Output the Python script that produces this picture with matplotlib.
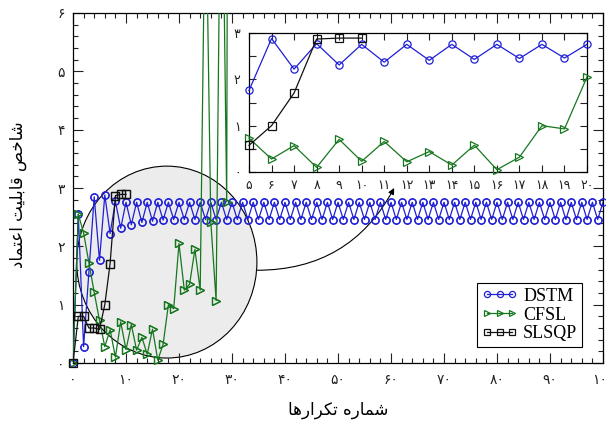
import numpy as np
import matplotlib
matplotlib.use("Agg")
import matplotlib.pyplot as plt
from matplotlib.patches import Ellipse

# ---------------- data ----------------
iterations = list(range(0, 101))

dstm = [0.0, 2.55, 0.28, 1.56, 2.85, 1.76, 2.88, 2.22, 2.77, 2.31,
        2.755, 2.37, 2.755, 2.41, 2.755, 2.43, 2.755, 2.45, 2.755, 2.46,
        2.755, 2.46, 2.755, 2.46, 2.755, 2.46, 2.755, 2.46, 2.755, 2.46,
        2.755, 2.46, 2.755, 2.46, 2.755, 2.46, 2.755, 2.46, 2.755, 2.46,
        2.755, 2.46, 2.755, 2.46, 2.755, 2.46, 2.755, 2.46, 2.755, 2.46,
        2.755, 2.46, 2.755, 2.46, 2.755, 2.46, 2.755, 2.46, 2.755, 2.46,
        2.755, 2.46, 2.755, 2.46, 2.755, 2.46, 2.755, 2.46, 2.755, 2.46,
        2.755, 2.46, 2.755, 2.46, 2.755, 2.46, 2.755, 2.46, 2.755, 2.46,
        2.755, 2.46, 2.755, 2.46, 2.755, 2.46, 2.755, 2.46, 2.755, 2.46,
        2.755, 2.46, 2.755, 2.46, 2.755, 2.46, 2.755, 2.46, 2.755, 2.46,
        2.755]

cfsl_iter = list(range(0, 31))
cfsl = [0.0, 2.55, 2.23, 1.72, 1.21, 0.73, 0.28, 0.57, 0.10, 0.705,
        0.23, 0.66, 0.22, 0.44, 0.15, 0.58, 0.05, 0.32, 1.00, 0.93,
        2.05, 1.25, 1.35, 1.95, 1.25, 8.5, 2.42, 1.07, 10.0, 2.76,
        40.0]

slsqp_iter = list(range(0, 11))
slsqp = [0.0, 0.8, 0.8, 0.6, 0.6, 0.575, 1.0, 1.705, 2.87, 2.89, 2.89]

series_names = ["DSTM", "CFSL", "SLSQP"]

x_ticks = [0, 10, 20, 30, 40, 50, 60, 70, 80, 90, 100]
x_tick_labels = ["۰", "۱۰", "۲۰", "۳۰", "۴۰", "۵۰", "۶۰", "۷۰", "۸۰", "۹۰", "۱۰۰"]
y_ticks = [0, 1, 2, 3, 4, 5, 6]
y_tick_labels = ["۰", "۱", "۲", "۳", "۴", "۵", "۶"]
inset_x_ticks = list(range(5, 21))
inset_x_tick_labels = ["۵", "۶", "۷", "۸", "۹", "۱۰", "۱۱", "۱۲", "۱۳", "۱۴",
                       "۱۵", "۱۶", "۱۷", "۱۸", "۱۹", "۲۰"]
inset_y_ticks = [0, 1, 2, 3]
inset_y_tick_labels = ["۰", "۱", "۲", "۳"]

x_label = "شماره تکرارها"
y_label = "شاخص قابلیت اعتماد"

# ---------------- minimal Persian shaping ----------------
AR_FORMS = {
    '\u0627': ('\uFE8D', '\uFE8E', None, None),
    '\u0628': ('\uFE8F', '\uFE90', '\uFE91', '\uFE92'),
    '\u062A': ('\uFE95', '\uFE96', '\uFE97', '\uFE98'),
    '\u062E': ('\uFEA5', '\uFEA6', '\uFEA7', '\uFEA8'),
    '\u062F': ('\uFEA9', '\uFEAA', None, None),
    '\u0631': ('\uFEAD', '\uFEAE', None, None),
    '\u0634': ('\uFEB5', '\uFEB6', '\uFEB7', '\uFEB8'),
    '\u0635': ('\uFEB9', '\uFEBA', '\uFEBB', '\uFEBC'),
    '\u0639': ('\uFEC9', '\uFECA', '\uFECB', '\uFECC'),
    '\u0642': ('\uFED5', '\uFED6', '\uFED7', '\uFED8'),
    '\u0644': ('\uFEDD', '\uFEDE', '\uFEDF', '\uFEE0'),
    '\u0645': ('\uFEE1', '\uFEE2', '\uFEE3', '\uFEE4'),
    '\u0647': ('\uFEE9', '\uFEEA', '\uFEEB', '\uFEEC'),
    '\u06A9': ('\uFB8E', '\uFB8F', '\uFB90', '\uFB91'),
    '\u06CC': ('\uFBFC', '\uFBFD', '\uFBFE', '\uFBFF'),
}


def shape(s):
    s = s.replace('\u0643', '\u06A9').replace('\u064A', '\u06CC')
    out = []
    for i, c in enumerate(s):
        if c not in AR_FORMS:
            out.append(c)
            continue
        iso, fin, ini, med = AR_FORMS[c]
        prev = s[i - 1] if i > 0 else ''
        nxt = s[i + 1] if i + 1 < len(s) else ''
        pj = prev in AR_FORMS and AR_FORMS[prev][2] is not None
        nj = ini is not None and nxt in AR_FORMS
        if pj and nj:
            f = med
        elif pj:
            f = fin
        elif nj:
            f = ini
        else:
            f = iso
        out.append(f)
    return ''.join(reversed(out))


# ---------------- style ----------------
plt.rcParams['font.family'] = ['DejaVu Sans']
BLUE = "#1f1fd6"
GREEN = "#17771f"
BLACK = "#111111"
styles = {
    "DSTM": dict(color=BLUE, marker='o'),
    "CFSL": dict(color=GREEN, marker='>'),
    "SLSQP": dict(color=BLACK, marker='s'),
}
MS = 5.2
LW = 0.9

fig = plt.figure(figsize=(6.06, 4.26), dpi=100)
ax = fig.add_axes([73 / 606, 63 / 426, 530 / 606, 350 / 426])

ax.set_xlim(0, 100)
ax.set_ylim(0, 6)

# zoom ellipse
ell = Ellipse((17.7, 1.73), 34.0, 3.29, facecolor="#ececec",
              edgecolor="black", lw=0.8, zorder=1)
ax.add_patch(ell)

data = {
    "DSTM": (iterations, dstm),
    "CFSL": (cfsl_iter, cfsl),
    "SLSQP": (slsqp_iter, slsqp),
}

for name in series_names:
    xs, ys = data[name]
    st = styles[name]
    ax.plot(xs, ys, color=st['color'], lw=LW, marker=st['marker'],
            markersize=MS, markerfacecolor='none', markeredgewidth=0.9,
            markeredgecolor=st['color'], label=name, zorder=3)
    ym = np.where(np.array(ys) <= 6, np.array(ys, dtype=float), np.nan)
    ax.plot(xs, ym, linestyle='none', marker=st['marker'], markersize=MS,
            markerfacecolor='none', markeredgewidth=0.9,
            markeredgecolor=st['color'], clip_on=False, zorder=3)

ax.set_xticks(x_ticks)
ax.set_xticklabels(x_tick_labels)
ax.set_yticks(y_ticks)
ax.set_yticklabels(y_tick_labels)
ax.set_xticks(np.arange(0, 101, 2), minor=True)
ax.set_yticks(np.arange(0, 6.01, 0.2), minor=True)
ax.tick_params(which='both', direction='in', top=True, right=True,
               width=0.8, colors='#222222', labelsize=10)
ax.tick_params(which='major', length=7)
ax.tick_params(which='minor', length=3.5)
ax.tick_params(axis='x', pad=7)
ax.tick_params(axis='y', pad=6)
for sp in ax.spines.values():
    sp.set_linewidth(0.9)

ax.set_xlabel(shape(x_label), fontsize=12)
ax.set_ylabel(shape(y_label), fontsize=12)
ax.xaxis.label.set_verticalalignment('center')
ax.yaxis.label.set_verticalalignment('center')
ax.xaxis.set_label_coords(0.5, -(410 - 363) / 350)
ax.yaxis.set_label_coords(-(73 - 18) / 530, 0.48)

handles, labels = ax.get_legend_handles_labels()
leg = ax.legend(handles, labels, loc='lower right',
                bbox_to_anchor=(0.96, 0.046), borderaxespad=0,
                prop={'family': 'Liberation Serif', 'size': 13},
                numpoints=3, handlelength=2.0, handletextpad=0.3,
                borderpad=0.25, labelspacing=0.1, fancybox=False,
                framealpha=1, edgecolor='black', markerscale=0.85)
leg.get_frame().set_linewidth(0.8)

# connector from ellipse to inset
ax.annotate("", xy=(60.6, 3.0), xytext=(34.7, 1.59),
            arrowprops=dict(arrowstyle='-|>', color='black', lw=0.8,
                            mutation_scale=9,
                            connectionstyle='arc3,rad=0.3',
                            shrinkA=0, shrinkB=0), zorder=2)

# ---------------- inset ----------------
axin = fig.add_axes([249 / 606, (426 - 172) / 426, 338 / 606, 139 / 426])
axin.set_xlim(5, 20)
axin.set_ylim(0, 3)
for name in series_names:
    xs, ys = data[name]
    st = styles[name]
    xs_in = [x for x in xs if 5 <= x <= 20]
    ys_in = [y for x, y in zip(xs, ys) if 5 <= x <= 20]
    axin.plot(xs_in, ys_in, color=st['color'], lw=LW, marker=st['marker'],
              markersize=MS, markerfacecolor='none', markeredgewidth=0.9,
              markeredgecolor=st['color'], clip_on=False, zorder=3)
axin.set_xticks(inset_x_ticks)
axin.set_xticklabels(inset_x_tick_labels)
axin.set_yticks(inset_y_ticks)
axin.set_yticklabels(inset_y_tick_labels)
axin.set_yticks(np.arange(0, 3.01, 0.5), minor=True)
axin.tick_params(which='both', direction='in', top=True, right=True,
                 width=0.8, colors='#222222', labelsize=9)
axin.tick_params(which='major', length=5)
axin.tick_params(which='minor', length=5)
axin.tick_params(axis='x', pad=5)
axin.tick_params(axis='y', pad=6)
for sp in axin.spines.values():
    sp.set_linewidth(0.9)

fig.savefig("out.png", dpi=100)
